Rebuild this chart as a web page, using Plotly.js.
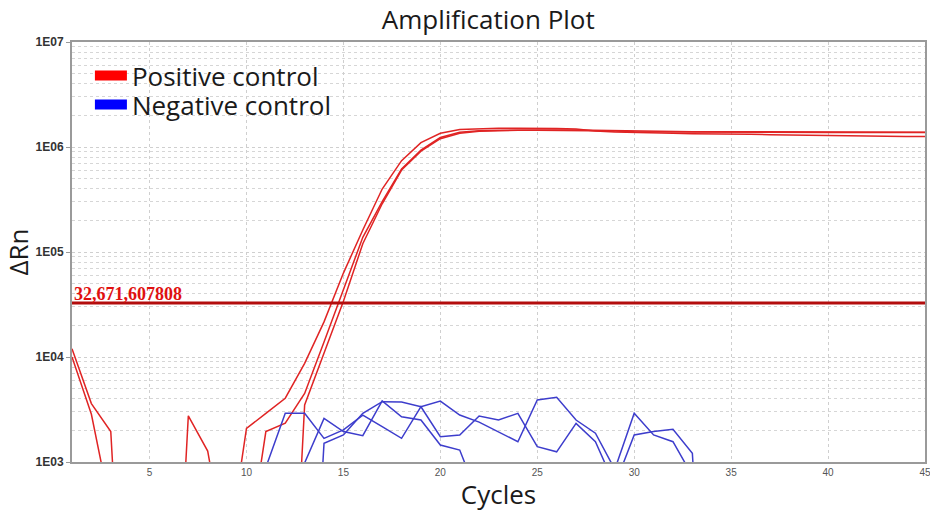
<!DOCTYPE html>
<html>
<head>
<meta charset="utf-8">
<script src="https://cdn.plot.ly/plotly-3.0.1.min.js"></script>
<style>html,body{margin:0;padding:0;background:#fff;}#chart{width:930px;height:512px;}</style>
</head>
<body>
<div id="chart"></div>
<script>
// ---- data ----
var cycles = [];
for (var i = 1; i <= 45; i++) cycles.push(i);

var threshold = 32671.607808;
var thresholdLabel = "32,671,607808";

// Positive control wells (ΔRn per cycle); values below the axis floor drawn as 1
var pos1 = [12000, 3600, 1950, 1, 1, 1, 2750, 1270, 120, 2090,
            2900, 4050, 8700, 21600, 63000, 162000, 398000, 741000, 1100000, 1350000,
            1470000, 1500000, 1510000, 1510000, 1510000, 1500000, 1480000, 1420000, 1390000, 1370000,
            1360000, 1350000, 1340000, 1340000, 1330000, 1320000, 1310000, 1300000, 1300000, 1290000,
            1280000, 1280000, 1270000, 1260000, 1260000];
var pos2 = [10000, 2850, 350, 1, 1, 1, 1, 1, 1, 120,
            1950, 2340, 4500, 13900, 44700, 138000, 302000, 617000, 933000, 1230000,
            1380000, 1430000, 1440000, 1450000, 1450000, 1450000, 1450000, 1440000, 1430000, 1410000,
            1410000, 1400000, 1400000, 1400000, 1400000, 1400000, 1395000, 1390000, 1390000, 1387000,
            1385000, 1383000, 1382000, 1381000, 1380000];
var pos3 = [1, 1, 1, 1, 1, 1, 1, 1, 1, 1,
            1, 1, 3500, 10700, 33900, 120000, 288000, 603000, 912000, 1200000,
            1350000, 1410000, 1430000, 1440000, 1440000, 1440000, 1440000, 1430000, 1420000, 1400000,
            1400000, 1395000, 1390000, 1390000, 1390000, 1388000, 1385000, 1382000, 1380000, 1378000,
            1376000, 1375000, 1374000, 1373000, 1372000];

// Negative control wells
var neg1 = [1, 1, 1, 1, 1, 1, 1, 1, 1, 1,
            890, 2910, 2910, 1680, 2020, 2800, 2170, 1680, 3360, 1740,
            1810, 2740, 2510, 2910, 1400, 1250, 2330, 1560, 600, 1810,
            1950, 2050, 1210, 1, 1, 1, 1, 1, 1, 1,
            1, 1, 1, 1, 1];
var neg2 = [1, 1, 1, 1, 1, 1, 1, 1, 1, 1,
            1, 1, 980, 2600, 1950, 1780, 3810, 2700, 2510, 1450,
            1300, 440, 1, 1, 1, 1, 1, 1, 1, 1,
            1, 1, 1, 1, 1, 1, 1, 1, 1, 1,
            1, 1, 1, 1, 1];
var neg3 = [1, 1, 1, 1, 1, 1, 1, 1, 1, 1,
            1, 1, 1, 1510, 1810, 2910, 3750, 3730, 3360, 3800,
            2800, 2400, 1950, 1560, 3900, 4130, 2510, 1880, 850, 2910,
            1810, 1560, 740, 1, 1, 1, 1, 1, 1, 1,
            1, 1, 1, 1, 1];

var xTicks = [5, 10, 15, 20, 25, 30, 35, 40, 45];
var yTickVals = [1e3, 1e4, 1e5, 1e6, 1e7];
var yTickText = ["1E03", "1E04", "1E05", "1E06", "1E07"];

// ---- styling ----
var posColor = "#e02424";
var negColor = "#3d3dcc";

function well(y, color) {
  return {x: cycles, y: y, type: "scatter", mode: "lines",
          showlegend: false, hoverinfo: "skip",
          line: {color: color, width: 1.5}};
}

var traces = [
  well(pos1, posColor), well(pos2, posColor), well(pos3, posColor),
  well(neg1, negColor), well(neg2, negColor), well(neg3, negColor),
  {x: [cycles[0], cycles[cycles.length - 1]], y: [threshold, threshold], type: "scatter",
   mode: "lines", showlegend: false, hoverinfo: "skip", line: {color: "#b30d0d", width: 3}},
  {x: [null], y: [null], type: "scatter", mode: "lines", name: "Positive control",
   legend: "legend", line: {color: "#ff0000", width: 12}},
  {x: [null], y: [null], type: "scatter", mode: "lines", name: "Negative control",
   legend: "legend2", line: {color: "#0000ff", width: 12}}
];

var bigFont = {family: "Open Sans", size: 26, color: "#1a1a1a"};

var legendBase = {xanchor: "left", yanchor: "top", bgcolor: "rgba(0,0,0,0)",
                  font: bigFont, itemwidth: 32};

var layout = {
  width: 930, height: 512,
  margin: {l: 72, r: 5, t: 42, b: 50},
  paper_bgcolor: "#ffffff", plot_bgcolor: "#ffffff",
  title: {text: "Amplification Plot", x: 0.525, xanchor: "center", y: 0.962, yanchor: "middle",
          font: bigFont},
  showlegend: true,
  legend: Object.assign({x: 0.021, y: 0.976}, legendBase),
  legend2: Object.assign({x: 0.021, y: 0.907}, legendBase),
  xaxis: {range: [1, 45], tickmode: "array", tickvals: xTicks, ticks: "",
          ticklabeloverflow: "allow",
          showgrid: true, gridcolor: "#cfcfcf", griddash: "dot", gridwidth: 1,
          zeroline: false, showline: true, linecolor: "#9a9a9a", linewidth: 2, mirror: true,
          tickfont: {family: "Liberation Sans", size: 10, color: "#555555"},
          title: {text: "Cycles", font: bigFont, standoff: 8}, automargin: false},
  yaxis: {type: "log", range: [3, 7], tickmode: "array", tickvals: yTickVals, ticktext: yTickText,
          ticks: "outside", ticklen: 4, tickcolor: "#9a9a9a",
          showgrid: true, gridcolor: "#cfcfcf", griddash: "dot", gridwidth: 1,
          minor: {dtick: "D1", showgrid: true, gridcolor: "#d6d6d6", griddash: "dot", ticks: ""},
          zeroline: false, showline: true, linecolor: "#9a9a9a", linewidth: 2, mirror: true,
          tickfont: {family: "Liberation Sans", size: 12, color: "#333333", weight: "bold"},
          title: {text: "ΔRn", font: bigFont, standoff: 4}, automargin: false},
  annotations: [{
    x: cycles[0], y: Math.log10(threshold), xref: "x", yref: "y",
    text: "<b>" + thresholdLabel + "</b>", showarrow: false,
    xanchor: "left", yanchor: "bottom", yshift: -3,
    font: {family: "Liberation Serif", size: 18, color: "#e01010"}
  }]
};

Plotly.newPlot("chart", traces, layout, {displayModeBar: false, staticPlot: true});
</script>
</body>
</html>
